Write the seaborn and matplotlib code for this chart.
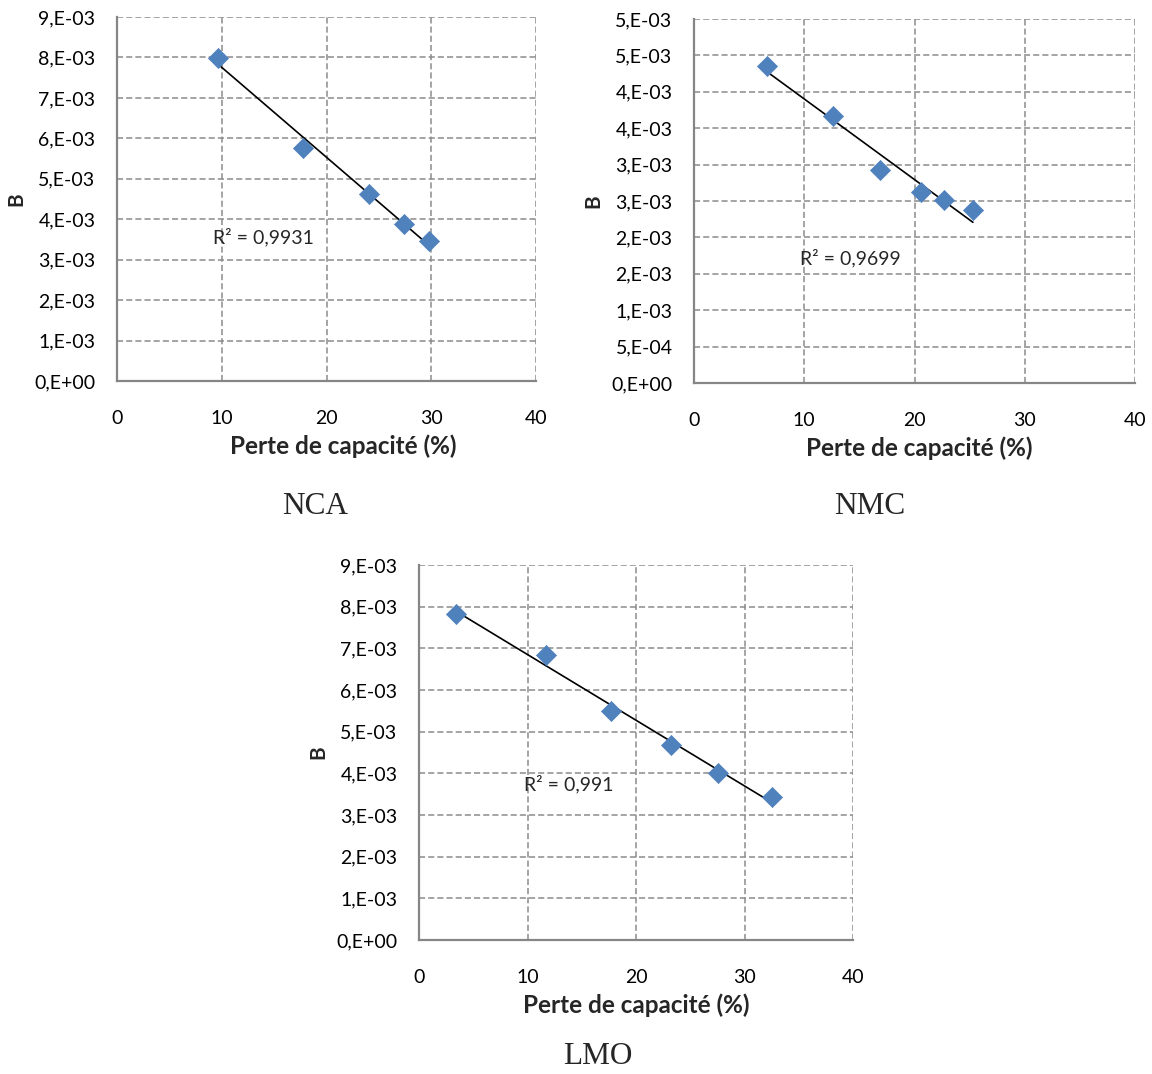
import numpy as np
import pandas as pd
import matplotlib
matplotlib.use("Agg")
import matplotlib.pyplot as plt
from matplotlib.ticker import FuncFormatter, MultipleLocator
import seaborn as sns

# ============================================================
# Data
# ============================================================
nca_loss = [9.6, 17.8, 24.1, 27.4, 29.8]
nca_b = [7.99e-3, 5.77e-3, 4.63e-3, 3.88e-3, 3.45e-3]
nca_r2 = "R² = 0,9931"

nmc_loss = [6.6, 12.6, 16.9, 20.6, 22.7, 25.3]
nmc_b = [4.36e-3, 3.67e-3, 2.92e-3, 2.63e-3, 2.51e-3, 2.37e-3]
nmc_r2 = "R² = 0,9699"

lmo_loss = [3.4, 11.7, 17.7, 23.2, 27.6, 32.5]
lmo_b = [7.82e-3, 6.85e-3, 5.49e-3, 4.67e-3, 4.00e-3, 3.43e-3]
lmo_r2 = "R² = 0,991"

XLABEL = "Perte de capacité (%)"
YLABEL = "B"

sns.set_style("white")
plt.rcParams['font.family'] = ['Lato', 'DejaVu Sans']

BLUE = "#4F81BD"
GRID = "#8C8C8C"
AXIS = "#868686"


def excel_sci(v, pos=None):
    # mimic Excel "0,E+00" number format
    if abs(v) < 1e-12:
        return "0,E+00"
    e = int(np.floor(np.log10(abs(v)) + 1e-9))
    m = int(np.floor(v / 10 ** e + 0.5 + 1e-9))
    if m == 10:
        m, e = 1, e + 1
    return f"{m},E{e:+03d}"


def panel(fig, rect, loss, b, r2, ymax, ystep, r2_xy, caption, cap_xy,
          ticks_out=False, xlabel_x=0.5):
    ax = fig.add_axes(rect)
    df = pd.DataFrame({"loss": loss, "b": b})
    sns.regplot(data=df, x="loss", y="b", ax=ax, scatter=False, ci=None,
                line_kws={"color": "black", "lw": 1.2, "zorder": 2})
    sns.scatterplot(data=df, x="loss", y="b", ax=ax, marker="D", s=105,
                    color=BLUE, edgecolor=BLUE, linewidth=0.5, zorder=3)
    ax.set_xlim(0, 40)
    ax.set_ylim(0, ymax)
    ax.xaxis.set_major_locator(MultipleLocator(10))
    ax.yaxis.set_major_locator(MultipleLocator(ystep))
    ax.yaxis.set_major_formatter(FuncFormatter(excel_sci))
    ax.grid(True, color=GRID, linestyle=(0, (4, 2)), linewidth=1.1)
    ax.set_axisbelow(True)
    for s in ["top", "right"]:
        ax.spines[s].set_visible(False)
    for s in ["left", "bottom"]:
        ax.spines[s].set_color(AXIS)
        ax.spines[s].set_linewidth(1.6)
    tl = 4 if ticks_out else 0
    ax.tick_params(axis="both", direction="out", length=tl, width=1.6, color=AXIS,
                   labelsize=14, labelcolor="black")
    ax.tick_params(axis="y", pad=15.5 - tl)
    ax.tick_params(axis="x", pad=21 - tl)
    ax.set_xlabel(XLABEL, fontsize=17.5, fontweight="bold", labelpad=5)
    ax.xaxis.label.set_x(xlabel_x)
    ax.set_ylabel(YLABEL, fontsize=15, fontweight="bold", labelpad=6)
    ax.text(r2_xy[0], r2_xy[1], r2, fontsize=14, va="center", ha="left")
    fig.text(cap_xy[0], cap_xy[1], caption, fontsize=22.5, ha="center", va="center",
             family=["Liberation Serif", "DejaVu Serif"])
    return ax


W, H = 1152, 1074
fig = plt.figure(figsize=(W / 100, H / 100), dpi=100)


def rect(l, t, r, b):
    return [l / W, 1 - b / H, (r - l) / W, (b - t) / H]


panel(fig, rect(117, 17, 536, 381), nca_loss, nca_b, nca_r2, 9e-3, 1e-3,
      (9.2, 3.55e-3), "NCA", (315 / W, 1 - 506 / H), xlabel_x=0.54)
panel(fig, rect(694, 19, 1135, 383), nmc_loss, nmc_b, nmc_r2, 5e-3, 5e-4,
      (9.6, 1.72e-3), "NMC", (870 / W, 1 - 506 / H), xlabel_x=0.51)
panel(fig, rect(419, 565, 853, 940), lmo_loss, lmo_b, lmo_r2, 9e-3, 1e-3,
      (9.7, 3.75e-3), "LMO", (598 / W, 1 - 1057 / H), ticks_out=True)

fig.savefig("out.png", dpi=100, facecolor="white")
